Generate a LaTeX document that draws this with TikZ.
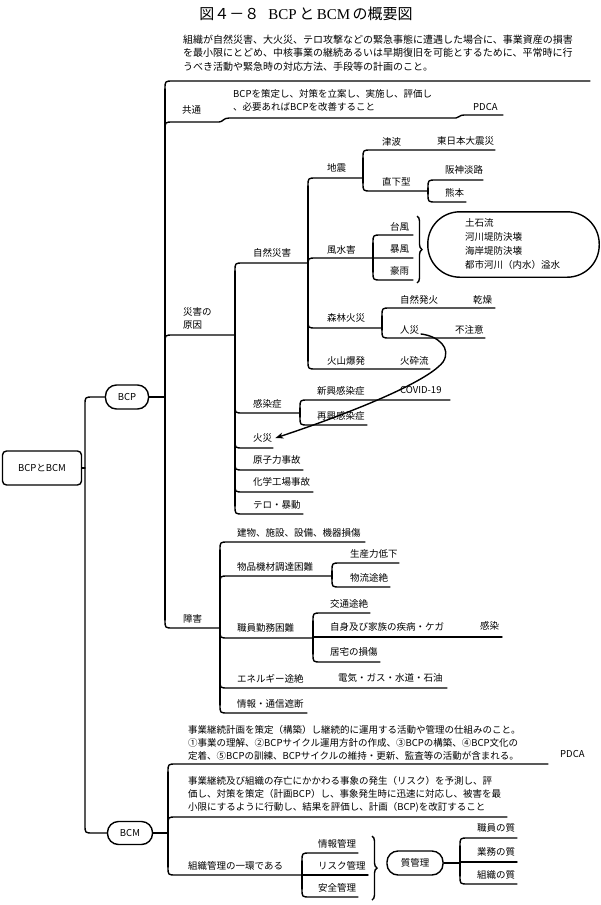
\documentclass[tikz,border=0pt]{standalone}
\usepackage{fontspec}
\setmainfont{Noto Sans CJK JP}
\newfontfamily\latinserif{Liberation Serif}
\usetikzlibrary{decorations.pathreplacing,arrows.meta}
\tikzset{
  ln/.style={line width=1.4pt, line cap=round, line join=round},
  lbl/.style={anchor=west, inner sep=0pt, font=\fontsize{9.5}{13}\selectfont, align=left},
  desc/.style={anchor=west, inner sep=0pt, font=\fontsize{10}{13.5}\selectfont, align=left},
  rbox/.style={draw, line width=1.4pt, inner sep=0pt, font=\fontsize{9.5}{12}\selectfont},
  brc/.style={line width=1.4pt, decorate, decoration={brace, amplitude=5pt}},
}
% branch above the junction (trunk comes from below)
\newcommand\mmup[3]{\draw[ln] (#1,#2+8) .. controls (#1,#2) .. (#1+8,#2) -- (#3,#2);}
% branch below the junction (trunk comes from above)
\newcommand\mmdn[3]{\draw[ln] (#1,#2-8) .. controls (#1,#2) .. (#1+8,#2) -- (#3,#2);}
% trunk between the first and the last branch
\newcommand\mmtr[3]{\draw[ln] (#1,#2+8) -- (#1,#3-8);}
\begin{document}
\begin{tikzpicture}[x=1pt,y=-1pt]
\fill[white] (0,0) rectangle (600,905);
\useasboundingbox (0,0) rectangle (600,905);

% title
\node[inner sep=0pt, font=\fontsize{15}{15}\selectfont] (title) at (306,14)
  {図４－８\hspace{0.6em}{\latinserif BCP}\,と\,{\latinserif BCM}\,の概要図};

% ---------------- root and main boxes
\node[rbox, minimum width=79pt, minimum height=34pt, rounded corners=4pt] (root) at (42,468) {BCPとBCM};
\node[rbox, minimum width=43pt, minimum height=24pt, rounded corners=11pt] (bcp) at (127,397) {BCP};
\node[rbox, minimum width=45pt, minimum height=23pt, rounded corners=11pt] (bcm) at (130,833) {BCM};
\coordinate (lj1) at (85,397);
\coordinate (lj2) at (85,833);
\draw[ln] (bcp.west) -- (93,397) .. controls (lj1) .. (85,405) -- (85,825) .. controls (lj2) .. (93,833) -- (bcm.west);
\draw[ln] (root.east) -- (85,468);

% ---------------- BCP
\coordinate (bcpj) at (165,397);
\draw[ln] (bcp.east) -- (bcpj);
\mmtr{165}{81}{628}
\node[desc] (bcpdef) at (183,53) {組織が自然災害、大火災、テロ攻撃などの緊急事態に遭遇した場合に、事業資産の損害\\を最小限にとどめ、中核事業の継続あるいは早期復旧を可能とするために、平常時に行\\うべき活動や緊急時の対応方法、手段等の計画のこと。};
\mmup{165}{81}{590}

\node[lbl] (kyotsu) at (182,110) {共通};
\node[lbl] (kyotsut) at (233,100) {BCPを策定し、対策を立案し、実施し、評価し\\、必要あればBCPを改善すること};
\node[lbl] (pdca1) at (473,107) {PDCA};
\draw[ln] (165,130) .. controls (165,122) .. (173,122) -- (219,122) .. controls (223,122) and (223,118) .. (229,118) -- (456,118) .. controls (459,118) and (459,115) .. (464,115) -- (503,115);

% 災害の原因
\node[lbl] (gen) at (183,318) {災害の\\原因};
\mmup{165}{335}{235}
\mmtr{235}{263}{514}

\node[lbl] (shizen) at (253,253) {自然災害};
\mmup{235}{263}{308}
\mmtr{308}{178}{369}

\node[lbl] (jishin) at (327,168) {地震};
\mmup{308}{178}{363}
\mmtr{363}{150}{191}
\node[lbl] (tsunami) at (382,142) {津波};
\node[lbl] (higashi) at (437,141) {東日本大震災};
\mmup{363}{150}{495}
\node[lbl] (chokka) at (382,182) {直下型};
\mmdn{363}{191}{428}
\mmtr{428}{180}{202}
\node[lbl] (hanshin) at (445,170) {阪神淡路};
\mmup{428}{180}{483}
\node[lbl] (kumamoto) at (445,193) {熊本};
\mmdn{428}{202}{466}

\node[lbl] (fusui) at (327,250) {風水害};
\mmup{308}{258}{413}
\mmtr{373}{235}{280}
\node[lbl] (taifu) at (390,227) {台風};
\mmup{373}{235}{413}
\node[lbl] (bofu) at (390,249) {暴風};
\node[lbl] (gou) at (390,271) {豪雨};
\mmdn{373}{280}{413}
\draw[brc] (417,216) -- (417,283);
\node[draw=none, inner sep=0pt, minimum width=171pt, minimum height=65pt] (oval) at (513.5,244.5) {};
\draw[line width=1.4pt, rounded corners=32pt] (oval.north west) rectangle (oval.south east);
\node[lbl, font=\fontsize{9.5}{14}\selectfont] (ovalt) at (465,244) {土石流\\河川堤防決壊\\海岸堤防決壊\\都市河川（内水）溢水};

\node[lbl] (shinrin) at (327,318) {森林火災};
\mmdn{308}{328}{382}
\mmtr{382}{308}{338}
\node[lbl] (shizenh) at (400,300) {自然発火};
\node[lbl] (kanso) at (473,300) {乾燥};
\mmup{382}{308}{495}
\node[lbl] (jinsai) at (400,330) {人災};
\node[lbl] (fuchui) at (455,330) {不注意};
\mmdn{382}{338}{485}

\node[lbl] (kazan) at (327,361) {火山爆発};
\node[lbl] (kasai2) at (400,361) {火砕流};
\mmdn{308}{369}{430}

\node[lbl] (kansen) at (253,404) {感染症};
\mmdn{235}{413}{300}
\mmtr{300}{400}{425}
\node[lbl] (shinko) at (317,391) {新興感染症};
\node[lbl] (covid) at (400,390) {COVID-19};
\mmup{300}{400}{450}
\node[lbl] (saiko) at (317,416) {再興感染症};
\mmdn{300}{425}{367}

\node[lbl] (kasai) at (253,438) {火災};
\mmdn{235}{448}{273}
\node[lbl] (genshi) at (253,460) {原子力事故};
\mmdn{235}{470}{303}
\node[lbl] (kagaku) at (253,482) {化学工場事故};
\mmdn{235}{492}{313}
\node[lbl] (tero) at (253,505) {テロ・暴動};
\mmdn{235}{514}{303}

\coordinate (arrs) at (421,334);
\draw[ln, -{Stealth[length=8pt,width=6pt]}] (arrs) .. controls (438,336) and (452,348) .. (443,362) .. controls (425,385) and (330,420) .. ([xshift=3pt]kasai.east);

% 障害
\node[lbl] (shogai) at (183,619) {障害};
\mmdn{165}{628}{220}
\mmtr{220}{542}{713}
\node[lbl] (tatemono) at (237,533) {建物、施設、設備、機器損傷};
\mmup{220}{542}{365}
\node[lbl] (buppin) at (237,567) {物品機材調達困難};
\mmup{220}{576}{332}
\mmtr{332}{563}{587}
\node[lbl] (seisan) at (350,554) {生産力低下};
\mmup{332}{563}{399}
\node[lbl] (butsuryu) at (350,578) {物流途絶};
\mmdn{332}{587}{390}
\node[lbl] (shokuin) at (237,628) {職員勤務困難};
\mmdn{220}{638}{313}
\mmtr{313}{613}{662}
\node[lbl] (kotsu) at (330,604) {交通途絶};
\mmup{313}{613}{370}
\node[lbl] (jishin2) at (330,627) {自身及び家族の疾病・ケガ};
\node[lbl] (kansen2) at (480,626) {感染};
\draw[ln] (313,637) -- (502,637);
\node[lbl] (kyotaku) at (330,652) {居宅の損傷};
\mmdn{313}{662}{380}
\node[lbl] (energy) at (237,679) {エネルギー途絶};
\node[lbl] (denki) at (338,678) {電気・ガス・水道・石油};
\mmdn{220}{688}{447}
\node[lbl] (joho) at (237,704) {情報・通信遮断};
\mmdn{220}{713}{307}

% ---------------- BCM
\coordinate (bcmj) at (168,833);
\draw[ln] (bcm.east) -- (bcmj);
\mmtr{168}{764}{875}
\node[lbl] (bcmt1) at (188,743) {事業継続計画を策定（構築）し継続的に運用する活動や管理の仕組みのこと。\\①事業の理解、②BCPサイクル運用方針の作成、③BCPの構築、④BCP文化の\\定着、⑤BCPの訓練、BCPサイクルの維持・更新、監査等の活動が含まれる。};
\node[lbl] (pdca2) at (560,754) {PDCA};
\mmup{168}{764}{548}
\node[lbl] (bcmt2) at (188,794) {事業継続及び組織の存亡にかかわる事象の発生（リスク）を予測し、評\\価し、対策を策定（計画BCP）し、事象発生時に迅速に対応し、被害を最\\小限にするように行動し、結果を評価し、計画（BCP)を改訂すること};
\mmup{168}{817}{507}
\node[lbl] (soshiki) at (188,866) {組織管理の一環である};
\mmdn{168}{875}{302}
\mmtr{302}{853}{897}
\node[lbl] (jkanri) at (318,844) {情報管理};
\mmup{302}{853}{358}
\node[lbl] (rkanri) at (318,866) {リスク管理};
\draw[ln] (302,875) -- (368,875);
\node[lbl] (akanri) at (318,888) {安全管理};
\mmdn{302}{897}{358}
\draw[brc] (372,836) -- (372,900);
\node[rbox, minimum width=56pt, minimum height=24pt, rounded corners=11pt] (shitsu) at (415,863) {質管理};
\coordinate (shj) at (460,863);
\draw[ln] (shitsu.east) -- (shj);
\mmtr{460}{838}{884}
\node[lbl] (s1) at (477,828) {職員の質};
\mmup{460}{838}{517}
\node[lbl] (s2) at (477,852) {業務の質};
\draw[ln] (460,862) -- (517,862);
\node[lbl] (s3) at (477,875) {組織の質};
\mmdn{460}{884}{517}
\end{tikzpicture}
\end{document}
